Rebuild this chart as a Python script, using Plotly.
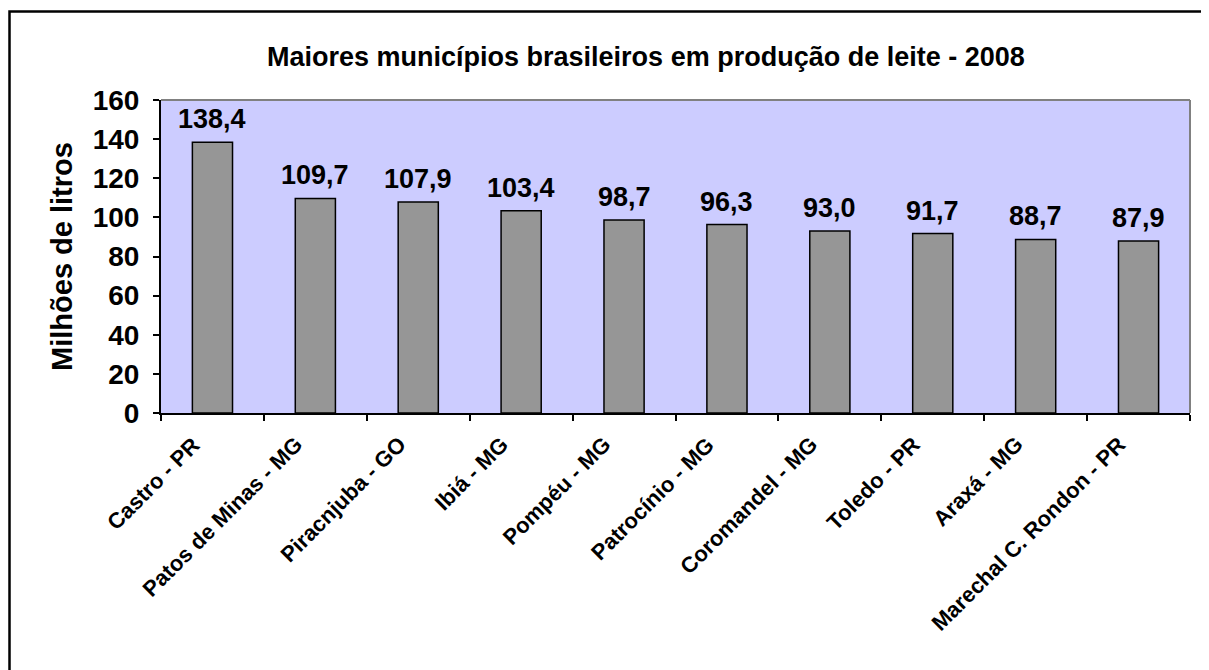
import plotly.graph_objects as go

categories = ["Castro - PR", "Patos de Minas - MG", "Piracnjuba - GO", "Ibiá - MG",
              "Pompéu - MG", "Patrocínio - MG", "Coromandel - MG", "Toledo - PR",
              "Araxá - MG", "Marechal C. Rondon - PR"]
values = [138.4, 109.7, 107.9, 103.4, 98.7, 96.3, 93.0, 91.7, 88.7, 87.9]
y_ticks = [0, 20, 40, 60, 80, 100, 120, 140, 160]

FONT = "Liberation Sans, Arial, sans-serif"
OFF = 8  # page body margin
W, H = 1201, 662
L, T = 153, 92
pw, ph = 1029, 313
R = W - L - pw
B = H - T - ph

def px_x(sx):
    return (sx - OFF - L) / pw

def px_y(sy):
    return (OFF + T + ph - sy) / ph

fig = go.Figure()
fig.add_trace(go.Bar(
    x=categories, y=values,
    marker=dict(color="#969696", line=dict(color="black", width=1.5)),
    width=0.39,
    showlegend=False,
    hoverinfo="skip",
))

# value labels
for c, v in zip(categories, values):
    fig.add_annotation(x=c, y=v, xref="x", yref="y", text=f"{v:.1f}".replace(".", ","),
                       showarrow=False, yanchor="bottom", yshift=6,
                       font=dict(family=FONT, size=27, color="black", weight="bold"))

# rotated category labels
for c in categories:
    fig.add_annotation(x=c, y=0, xref="x", yref="y", text=c, textangle=-45,
                       showarrow=False, xanchor="right", yanchor="top",
                       xshift=-5, yshift=-16,
                       font=dict(family=FONT, size=22, color="black", weight="bold"))

fig.add_annotation(x=px_x(646), y=px_y(57), xref="paper", yref="paper",
                   text="Maiores municípios brasileiros em produção de leite - 2008",
                   showarrow=False, xanchor="center", yanchor="middle",
                   font=dict(family=FONT, size=27, color="black", weight="bold"))

# outer border
fig.add_shape(type="rect", xref="paper", yref="paper",
              x0=px_x(9.5), x1=px_x(1240), y0=px_y(720), y1=px_y(11.5),
              line=dict(color="black", width=2.5), layer="below")
# top and right gray plot-area border
fig.add_shape(type="line", xref="paper", yref="paper", x0=0, x1=1, y0=1, y1=1,
              line=dict(color="#808080", width=2))
fig.add_shape(type="line", xref="paper", yref="paper", x0=1, x1=1, y0=0, y1=1,
              line=dict(color="#808080", width=2))

fig.update_layout(
    width=W, height=H,
    margin=dict(l=L, r=R, t=T, b=B),
    paper_bgcolor="white",
    plot_bgcolor="#CCCCFF",
    bargap=0.61,
    font=dict(family=FONT, color="black"),
    xaxis=dict(
        type="category",
        tickson="boundaries",
        ticks="outside", ticklen=6, tickcolor="black", tickwidth=1.5,
        showline=True, linecolor="black", linewidth=2,
        showgrid=False,
        showticklabels=False,
        range=[-0.5, len(categories) - 0.5],
    ),
    yaxis=dict(
        range=[0, 160],
        tickvals=y_ticks,
        ticks="outside", ticklen=6, tickcolor="black", tickwidth=1.5,
        showline=True, linecolor="black", linewidth=2,
        showgrid=False, zeroline=False,
        ticklabelstandoff=8,
        tickfont=dict(family=FONT, size=28, color="black", weight="bold"),
        title=dict(text="Milhões de litros", standoff=12,
                   font=dict(family=FONT, size=29, color="black", weight="bold")),
    ),
)

fig.write_html("out.html")
